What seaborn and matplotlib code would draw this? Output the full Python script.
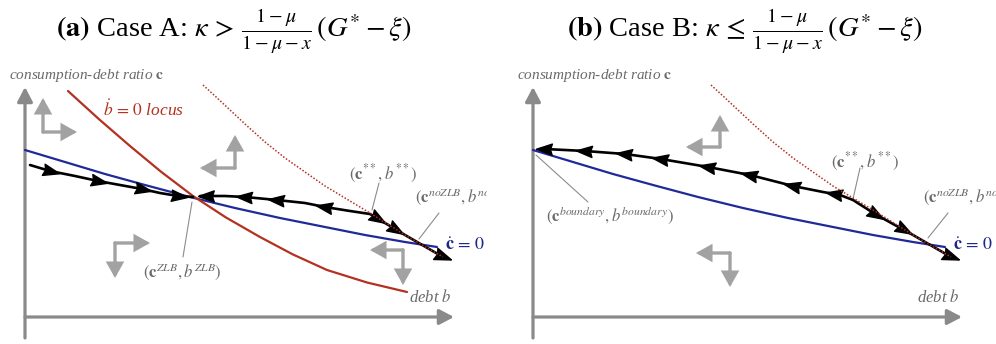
import numpy as np
import matplotlib
matplotlib.use("Agg")
import matplotlib.pyplot as plt
import seaborn as sns

sns.set_theme(style="white")
plt.rcParams["font.family"] = ["Liberation Serif", "DejaVu Serif"]
plt.rcParams["mathtext.fontset"] = "stix"

# ---------------- curves in the (debt b, consumption-debt ratio c) plane ----------------
# c-dot = 0 locus (blue), shared by both cases
cdot_b = [0, 40, 80, 120, 165, 210, 255, 300, 340, 380, 412]
cdot_c = [167, 155, 143, 132, 120, 109, 99, 90, 82, 75, 70]

# b-dot = 0 locus (red, Case A only)
bdot_b = [43, 74, 105, 136, 168, 201, 235, 268, 302, 342, 382]
bdot_c = [226, 197.8, 171, 145.3, 121, 99.5, 80, 62.5, 47, 34.5, 25]

# unconstrained (no-ZLB) saddle path, dotted red
nozlb_b = [178, 190, 205, 220, 240, 260, 280, 300, 320, 345, 380, 418]
nozlb_c = [232, 221, 207, 193, 175, 159, 145, 131, 119, 104, 82, 60]

# Case A trajectories
a_left_b = [5, 25, 50, 73, 95, 117, 135, 153, 168]
a_left_c = [152, 146, 141, 136, 132, 128, 124, 121, 120]
a_right_b = [175, 200, 220, 252, 280, 300, 325, 345, 380, 418]
a_right_c = [121, 121, 120, 117, 114, 110, 106, 103, 82, 60]

# Case B trajectory
b_path_b = [7, 12, 52, 92, 128, 175, 217, 260, 290, 307, 320, 342, 380, 418]
b_path_c = [168, 168, 166, 163, 158, 150, 142, 131, 125, 122, 117, 103, 82, 60]

# arrowheads on the trajectories: position along b and direction (+1 forward, -1 backward)
a_left_arrows = [25, 73, 117, 153]
a_right_back = [182, 220, 252, 300]
a_right_fwd = [352, 370, 417]
b_back = [12, 52, 92, 128, 175, 217, 260, 302]
b_fwd = [342, 370, 417]

# phase-diagram direction arrows: corner (b, c), horizontal tip b, vertical tip c
a_dir_corner = [(18, 185), (210, 149), (90, 74), (378, 67)]
a_dir_htip = [52, 175, 125, 345]
a_dir_vtip = [219, 182, 39, 32]
b_dir_corner = [(187, 170), (197, 64)]
b_dir_htip = [153, 163]
b_dir_vtip = [202, 30]

RED = "#b3311f"
BLUE = "#1f2a98"
NAVY = "#1b2688"
GRAY_TXT = "#6a6a6a"
GRAY_ARR = "#a2a2a2"
GRAY_AX = "#8a8a8a"
LEAD = "#8c8c8c"

fig = plt.figure(figsize=(9.96, 3.44), dpi=100)
axA = fig.add_axes([0, 0, 487 / 996, 1])
axB = fig.add_axes([498 / 996, 0, 498 / 996, 1])
axA.set_xlim(-25, 462)
axB.set_xlim(-35, 463)
for ax in (axA, axB):
    ax.set_ylim(-27, 317)
    ax.axis("off")


def tri_marker(angle):
    pts = np.array([[1.0, 0.0], [-0.75, 0.62], [-0.55, 0.0], [-0.75, -0.62], [1.0, 0.0]])
    ca, sa = np.cos(angle), np.sin(angle)
    rot = np.array([[ca, -sa], [sa, ca]])
    return [tuple(p) for p in pts @ rot.T]


def path_arrows(ax, bs, cs, positions, sign):
    for b0 in positions:
        c0 = np.interp(b0, bs, cs)
        db = 3.0
        dc = np.interp(b0 + db, bs, cs) - np.interp(b0 - db, bs, cs)
        ang = np.arctan2(sign * dc, sign * 2 * db)
        ax.plot([b0], [c0], marker=tri_marker(ang), markersize=13,
                color="black", linestyle="none", zorder=6)


def axis_arrow(ax, start, end):
    ax.annotate("", xy=end, xytext=start,
                arrowprops=dict(arrowstyle="-|>,head_length=0.8,head_width=0.42",
                                lw=2.3, color=GRAY_AX, shrinkA=0, shrinkB=0,
                                mutation_scale=11), zorder=1)


def dir_arrows(ax, corners, htips, vtips):
    for (b0, c0), bh, cv in zip(corners, htips, vtips):
        for tip in [(bh, c0), (b0, cv)]:
            ax.annotate("", xy=tip, xytext=(b0, c0),
                        arrowprops=dict(arrowstyle="-|>,head_length=0.75,head_width=0.42",
                                        lw=2.4, color=GRAY_ARR, shrinkA=0, shrinkB=0,
                                        mutation_scale=11, joinstyle="miter"), zorder=2)


def leader(ax, p0, p1):
    ax.plot([p0[0], p1[0]], [p0[1], p1[1]], color=LEAD, lw=0.8, zorder=3)


def frame(ax):
    axis_arrow(ax, (0, -21), (0, 230))
    axis_arrow(ax, (0, 0), (429, 0))
    ax.text(-16, 242, r"consumption-debt ratio $\mathbf{c}$", fontsize=11,
            style="italic", color=GRAY_TXT, ha="left", va="center")
    ax.text(427, 19, r"debt $b$", fontsize=12, style="italic", color=GRAY_TXT,
            ha="right", va="center")
    ax.text(420, 71, r"$\dot{\mathbf{c}}\,=\,0$", fontsize=13, color=NAVY,
            ha="left", va="center")


# ---------------- Case A ----------------
frame(axA)
axA.text(209, 286, r"$\mathbf{(a)}$ Case A: $\kappa\,>\,\frac{1-\mu}{1-\mu-x}\,(G^{*}-\xi)$",
         fontsize=20.5, ha="center", va="center", color="black")
dir_arrows(axA, a_dir_corner, a_dir_htip, a_dir_vtip)
sns.lineplot(x=cdot_b, y=cdot_c, sort=False, estimator=None, color=BLUE, lw=1.6, ax=axA, zorder=4)
sns.lineplot(x=bdot_b, y=bdot_c, sort=False, estimator=None, color=RED, lw=1.6, ax=axA, zorder=4)
sns.lineplot(x=a_left_b, y=a_left_c, sort=False, estimator=None, color="black", lw=1.9, ax=axA, zorder=5)
sns.lineplot(x=a_right_b, y=a_right_c, sort=False, estimator=None, color="black", lw=1.9, ax=axA, zorder=5)
sns.lineplot(x=nozlb_b, y=nozlb_c, sort=False, estimator=None, color=RED, lw=1.1,
             linestyle=(0, (1, 1.2)), ax=axA, zorder=7)
path_arrows(axA, a_left_b, a_left_c, a_left_arrows, +1)
path_arrows(axA, a_right_b, a_right_c, a_right_back, -1)
path_arrows(axA, a_right_b, a_right_c, a_right_fwd, +1)

axA.text(78, 207, r"$\dot{b}\,=\,0$ locus", fontsize=12.5, style="italic", color=RED,
         ha="left", va="center")
axA.text(157, 45, r"$(\mathbf{c}^{ZLB}, b^{ZLB})$", fontsize=12, color=GRAY_TXT,
         ha="center", va="center")
leader(axA, (167, 115), (158, 60))
axA.text(358, 143, r"$(\mathbf{c}^{**}, b^{**})$", fontsize=12, color=GRAY_TXT,
         ha="center", va="center")
leader(axA, (354, 134), (347, 107))
tA = axA.text(390, 120, r"$(\mathbf{c}^{noZLB}, b^{noZLB})$", fontsize=12, color=GRAY_TXT,
              ha="left", va="center")
tA.set_clip_on(True)
leader(axA, (414, 104), (394, 78))

# ---------------- Case B ----------------
frame(axB)
axB.text(212, 286, r"$\mathbf{(b)}$ Case B: $\kappa\,\leq\,\frac{1-\mu}{1-\mu-x}\,(G^{*}-\xi)$",
         fontsize=20.5, ha="center", va="center", color="black")
dir_arrows(axB, b_dir_corner, b_dir_htip, b_dir_vtip)
sns.lineplot(x=cdot_b, y=cdot_c, sort=False, estimator=None, color=BLUE, lw=1.6, ax=axB, zorder=4)
sns.lineplot(x=b_path_b, y=b_path_c, sort=False, estimator=None, color="black", lw=1.9, ax=axB, zorder=5)
sns.lineplot(x=nozlb_b, y=nozlb_c, sort=False, estimator=None, color=RED, lw=1.1,
             linestyle=(0, (1, 1.2)), ax=axB, zorder=7)
path_arrows(axB, b_path_b, b_path_c, b_back, -1)
path_arrows(axB, b_path_b, b_path_c, b_fwd, +1)

axB.text(77, 102, r"$(\mathbf{c}^{boundary}, b^{boundary})$", fontsize=12, color=GRAY_TXT,
         ha="center", va="center")
leader(axB, (3, 162), (55, 115))
axB.text(332, 155, r"$(\mathbf{c}^{**}, b^{**})$", fontsize=12, color=GRAY_TXT,
         ha="center", va="center")
leader(axB, (327, 149), (320, 118))
tB = axB.text(390, 120, r"$(\mathbf{c}^{noZLB}, b^{noZLB})$", fontsize=12, color=GRAY_TXT,
              ha="left", va="center")
tB.set_clip_on(True)
leader(axB, (415, 104), (395, 79))

fig.savefig("out.png", dpi=100, facecolor="white")
